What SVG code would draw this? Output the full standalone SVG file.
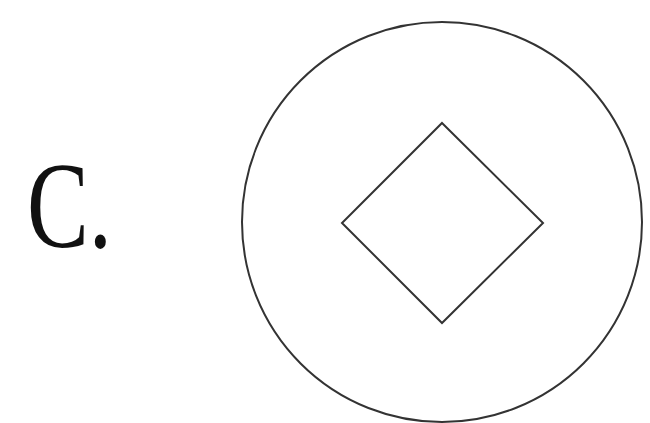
<svg xmlns="http://www.w3.org/2000/svg" width="650" height="423" viewBox="0 0 650 423">
<style>
.shape{fill:none;stroke:#333;stroke-width:2}
.label{font-family:"Liberation Serif",serif;font-size:122px;fill:#111}
</style>
<rect width="650" height="423" fill="#fff"/>
<g id="label-c">
<text class="label" transform="translate(27,247) scale(0.76,1)">C.</text>
</g>
<g id="outer-circle">
<circle class="shape" cx="442" cy="222" r="200"/>
</g>
<g id="diamond">
<polygon class="shape" points="442,123 543,223 442,323 342,223"/>
</g>
<g id="connectors"/>
</svg>
